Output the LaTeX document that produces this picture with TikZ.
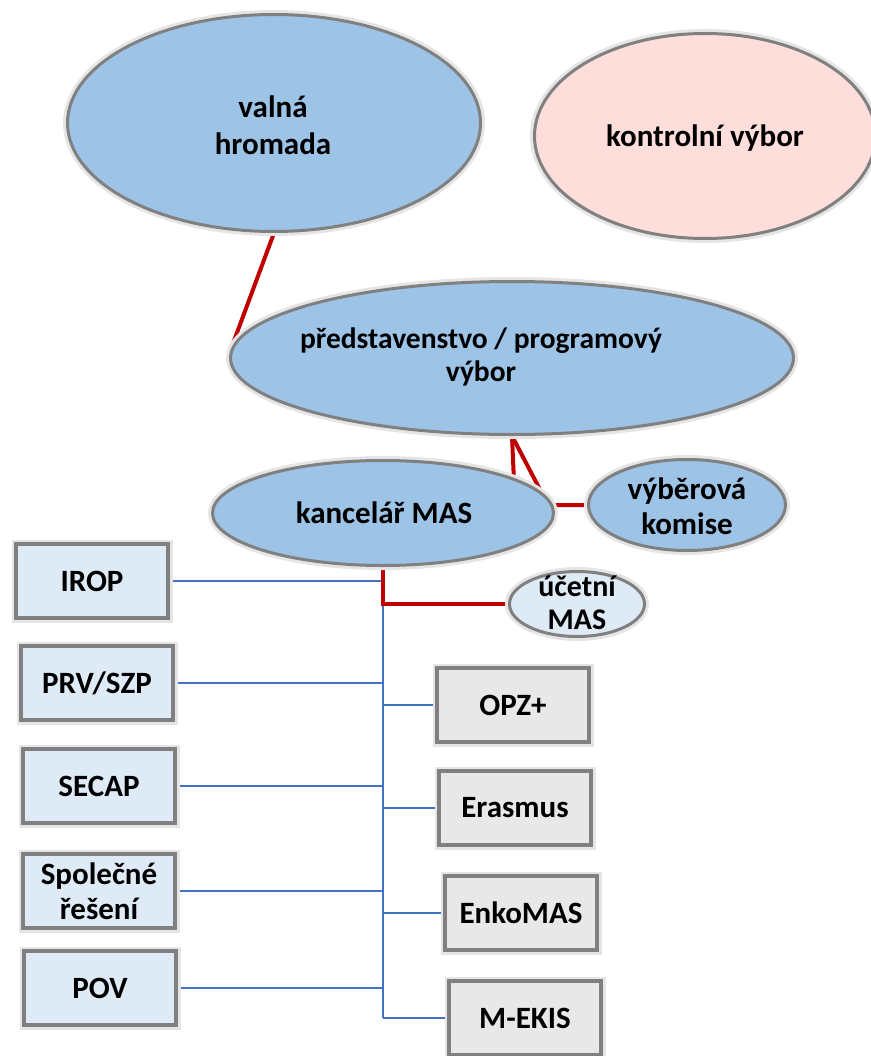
\documentclass[tikz,border=0pt]{standalone}
\usepackage{fontspec}
\setmainfont{Carlito}
\usetikzlibrary{shapes.geometric,backgrounds}
\definecolor{ellblue}{HTML}{9DC3E6}
\definecolor{ellpink}{HTML}{FDDEDA}
\definecolor{boxblue}{HTML}{DEEBF7}
\definecolor{boxgray}{HTML}{E8E8E8}
\definecolor{bordergray}{HTML}{808080}
\definecolor{redc}{HTML}{C00000}
\definecolor{bluec}{HTML}{4472C4}
\begin{document}
\begin{tikzpicture}[x=1pt,y=-1pt,
  txt/.style={font=\fontsize{31}{35}\selectfont\bfseries, align=center, inner sep=0pt},
  base/.style={draw=bordergray, preaction={draw=black!10, line width=9pt}, inner sep=0pt},
  ell/.style={base, ellipse, line width=3pt, fill=ellblue},
  lbox/.style={base, txt, rectangle, line width=4pt, fill=boxblue, minimum width=152pt, minimum height=74pt},
  rbox/.style={base, txt, rectangle, line width=4pt, fill=boxgray, minimum width=152pt, minimum height=74pt},
  redline/.style={draw=redc, line width=4pt},
  blueline/.style={draw=bluec, line width=2.2pt}]
\useasboundingbox (0,0) rectangle (870,1056);

% ellipses
\node[ell, minimum width=413pt, minimum height=217pt] (valna) at (274,123) {};
\node[ell, fill=ellpink, minimum width=341pt, minimum height=205pt] (kontrol) at (705,136) {};
\node[ell, minimum width=563pt, minimum height=153pt] (pred) at (512,358) {};
\node[ell, minimum width=341pt, minimum height=105pt] (kanc) at (383,513) {};
\node[ell, minimum width=197pt, minimum height=91pt] (vyb) at (687,505) {};
\node[ell, fill=boxblue, minimum width=135pt, minimum height=65pt] (uc) at (577,604) {};

% ellipse texts
\node[txt, font=\fontsize{31}{37}\selectfont\bfseries] (valnaT) at (273,125) {valná\\hromada};
\node[txt] (kontrolT) at (705,138) {kontrolní výbor};
\node[txt, font=\fontsize{29.5}{33}\selectfont\bfseries] (predT) at (481,357) {představenstvo / programový\\výbor};
\node[txt] (kancT) at (384,513) {kancelář MAS};
\node[txt] (vybT) at (687,506) {výběrová\\komise};
\node[txt, font=\fontsize{30}{33}\selectfont\bfseries] (ucT) at (577,603) {účetní\\MAS};

% left boxes
\node[lbox] (irop) at (92,581) {IROP};
\node[lbox] (prv) at (97,683) {PRV/SZP};
\node[lbox] (secap) at (99,786) {SECAP};
\node[lbox] (spol) at (99,891) {Společné\\řešení};
\node[lbox] (pov) at (100,988) {POV};

% right boxes
\node[rbox] (opz) at (513,705) {OPZ+};
\node[rbox] (erasmus) at (515,808) {Erasmus};
\node[rbox] (enko) at (521,913) {EnkoMAS};
\node[rbox] (mekis) at (525,1018) {M-EKIS};

\begin{scope}[on background layer]
  % blue trunk
  \coordinate (ttop) at (irop.east -| kanc.south);
  \coordinate (tbot) at (mekis.west -| kanc.south);
  \draw[blueline] (ttop) -- (tbot);
  \draw[blueline] (irop.east) -- (ttop);
  \draw[blueline] (prv.east) -- (prv.east -| ttop);
  \draw[blueline] (secap.east) -- (secap.east -| ttop);
  \draw[blueline] (spol.east) -- (spol.east -| ttop);
  \draw[blueline] (pov.east) -- (pov.east -| ttop);
  \draw[blueline] (opz.west -| ttop) -- (opz.west);
  \draw[blueline] (erasmus.west -| ttop) -- (erasmus.west);
  \draw[blueline] (enko.west -| ttop) -- (enko.west);
  \draw[blueline] (tbot) -- (mekis.west);
  % red connectors
  \draw[redline] (valna.south) -- (pred.178);
  \draw[redline] (pred.south) -- (kanc.15.5);
  \coordinate (bend) at (548,505);
  \draw[redline, line join=miter] (pred.south) -- (bend) -- (vyb.west);
  \draw[redline, line join=miter] (kanc.south) |- (uc.west);
\end{scope}
\end{tikzpicture}
\end{document}
